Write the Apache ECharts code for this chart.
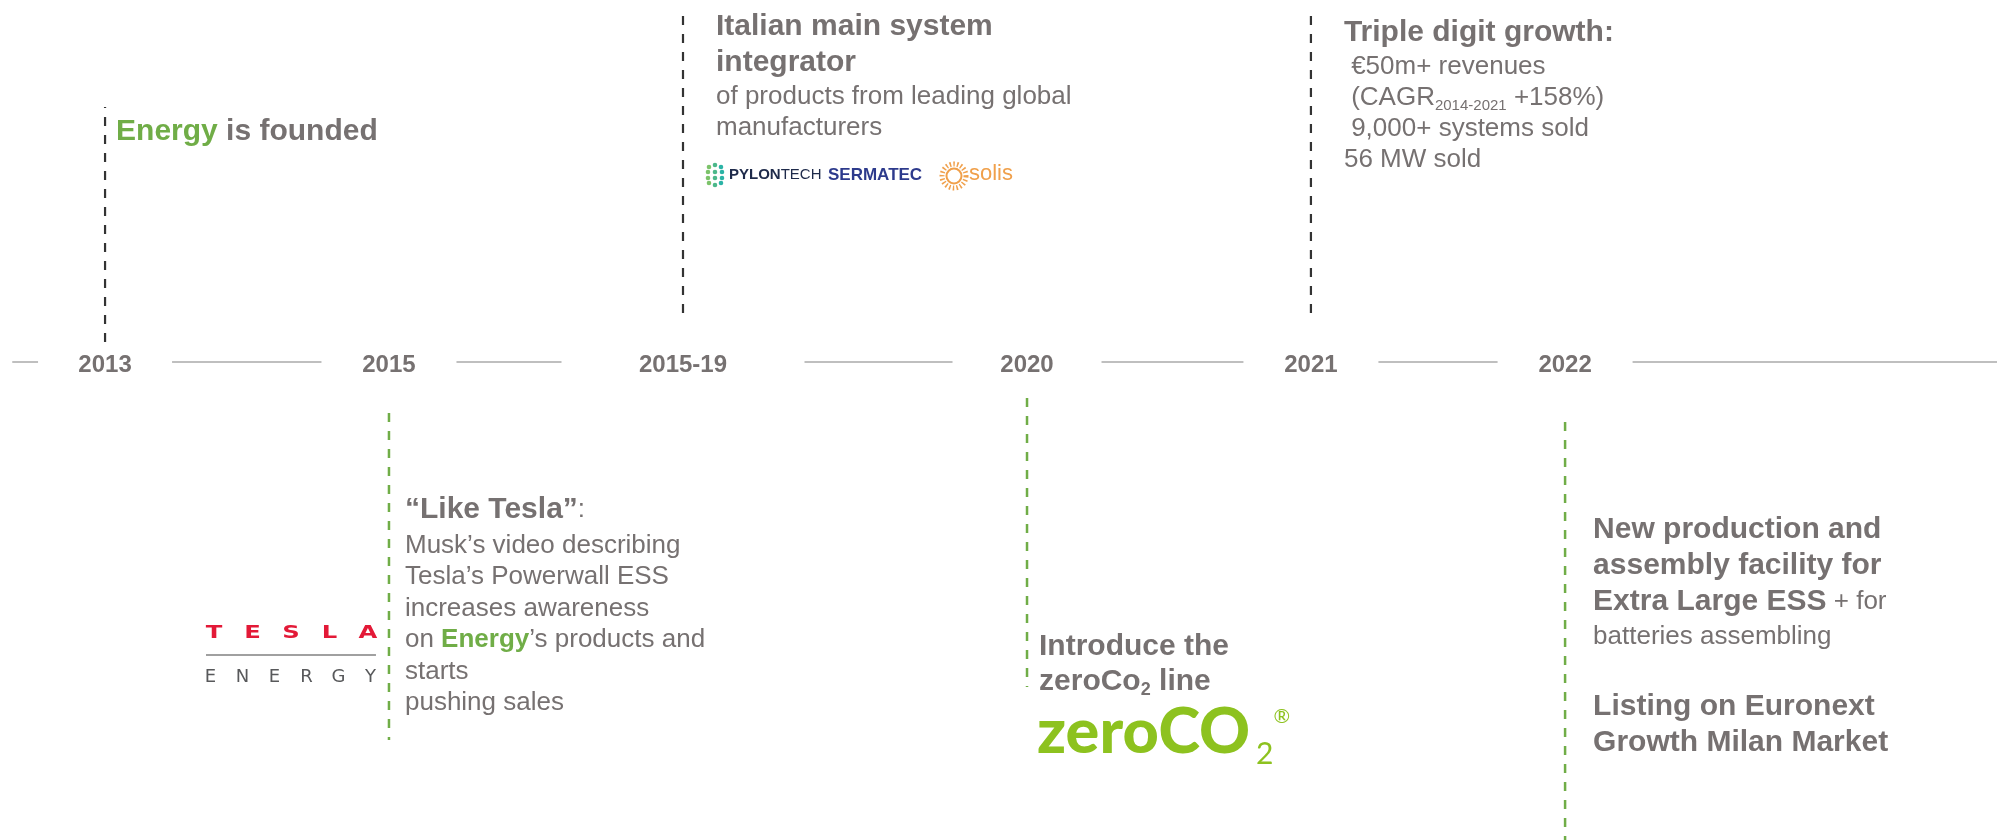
<!DOCTYPE html>
<html>
<head>
<meta charset="utf-8">
<title>Timeline</title>
<script src="https://cdn.jsdelivr.net/npm/echarts@6/dist/echarts.min.js"></script>
<style>
html, body { margin: 0; padding: 0; background: #fff; }
#timeline { width: 1997px; height: 840px; }
</style>
</head>
<body>
<div id="timeline"></div>
<script>
var years = ['2013', '2015', '2015-19', '2020', '2021', '2022'];
// where each milestone sits along the timeline (0-100)
var yearPos = [4.64, 18.95, 33.77, 51.11, 65.42, 78.23];
// 1 = note above the line, -1 = below
var side = [1, -1, 1, -1, 1, -1];
var notes = [
    ['{g|Energy}{b| is founded}'],
    ['{b|“Like Tesla”}{r|:}\n{r|Musk’s video describing}\n{r|Tesla’s Powerwall ESS}\n{r|increases awareness}\n{r|on }{gr|Energy}{r|’s products and}\n{r|starts}\n{r|pushing sales}'],
    ['{b|Italian main system}\n{b|integrator}\n{r|of products from leading global}\n{r|manufacturers}'],
    ['{b|Introduce the}\n{b|zeroCo}{bs|2}{b| line}'],
    ['{b|Triple digit growth:}\n{r| €50m+ revenues}\n{r| (CAGR}{s|2014-2021}{r| +158%)}\n{r| 9,000+ systems sold}\n{r|56 MW sold}'],
    ['{b|New production and}\n{b|assembly facility for}\n{b|Extra Large ESS}{r| + for}\n{r|batteries assembling}',
     '{b|Listing on Euronext}\n{b|Growth Milan Market}']
];

var FONT = '"Liberation Sans", Arial, sans-serif';
var GRAY = '#767171';
var GREEN = '#70ad47';

// stem: px from the axis where the dashed line starts/ends, text: [dx, dy] of each paragraph, lh: bold/regular line heights
var layout = [
    { stem: [20, 255], text: [[11, -247.5]], lh: [35, 31] },
    { stem: [51, 378], text: [[16, 128]], lh: [40, 31.5] },
    { stem: [49, 347], text: [[33, -353]], lh: [36, 31] },
    { stem: [36, 325], text: [[12, 267.5]], lh: [35, 31] },
    { stem: [49, 349], text: [[33, -347]], lh: [36, 31] },
    { stem: [60, 478], text: [[28, 150], [28, 327]], lh: [36, 34] }
];
// white box behind each year, cutting the grey line
var gapW = [134, 135, 243, 149, 135, 135];

function richStyles(bLH, rLH) {
    return {
        b: { fontFamily: FONT, fontSize: 30, fontWeight: 'bold', fill: GRAY, lineHeight: bLH },
        g: { fontFamily: FONT, fontSize: 30, fontWeight: 'bold', fill: GREEN, lineHeight: bLH },
        r: { fontFamily: FONT, fontSize: 26, fill: GRAY, lineHeight: rLH },
        gr: { fontFamily: FONT, fontSize: 26, fontWeight: 'bold', fill: GREEN, lineHeight: rLH },
        s: { fontFamily: FONT, fontSize: 15, fill: GRAY, lineHeight: rLH, verticalAlign: 'bottom' },
        bs: { fontFamily: FONT, fontSize: 18, fontWeight: 'bold', fill: GRAY, lineHeight: bLH, verticalAlign: 'bottom' }
    };
}

function teslaLogo(x, y) {
    var out = [];
    var t = 'TESLA', e = 'ENERGY';
    for (var k = 0; k < t.length; k++) {
        out.push({ type: 'text', x: x - 175 + k * 38.5, y: y + 271.5, scaleX: 1.35,
            style: { text: t[k], fontFamily: '"DejaVu Sans", sans-serif', fontSize: 18, fontWeight: 'bold',
                fill: '#e31937', align: 'center', verticalAlign: 'middle' } });
    }
    out.push({ type: 'line', shape: { x1: x - 183, y1: y + 293, x2: x - 13, y2: y + 293 },
        style: { stroke: '#808080', lineWidth: 1.5 } });
    for (var j = 0; j < e.length; j++) {
        out.push({ type: 'text', x: x - 178.5 + j * 32, y: y + 315,
            style: { text: e[j], fontFamily: '"DejaVu Sans", sans-serif', fontSize: 18,
                fill: '#58595b', align: 'center', verticalAlign: 'middle' } });
    }
    return out;
}

function partnerLogos(x, y) {
    var cy = y - 187;
    var out = [];
    var dots = [[-6, -8], [0, -10], [6, -8], [-7, -3], [0, -3], [7, -3], [-7, 3], [0, 3], [7, 3], [-6, 8], [0, 10], [6, 8]];
    var dotCol = ['#7cc36a', '#4cb88a', '#2bb3a6'];
    dots.forEach(function (d, k) {
        out.push({ type: 'circle', shape: { cx: x + 32 + d[0], cy: cy + d[1], r: 2.3 }, style: { fill: dotCol[k % 3] } });
    });
    out.push({ type: 'text', x: x + 46, y: cy,
        style: { text: '{pb|PYLON}{pr|TECH}', verticalAlign: 'middle', align: 'left',
            rich: { pb: { fontFamily: FONT, fontSize: 15, fontWeight: 'bold', fill: '#1e2a4a' },
                    pr: { fontFamily: FONT, fontSize: 15, fill: '#1e2a4a' } } } });
    out.push({ type: 'text', x: x + 145, y: cy,
        style: { text: 'SERMATEC', fontFamily: FONT, fontSize: 17, fontWeight: 'bold', fill: '#2d3a8c',
            verticalAlign: 'middle', align: 'left' } });
    out.push({ type: 'circle', shape: { cx: x + 271, cy: cy + 1, r: 12 },
        style: { fill: 'none', stroke: '#f0a04b', lineWidth: 5, lineDash: [1.5, 2.2] } });
    out.push({ type: 'circle', shape: { cx: x + 271, cy: cy + 1, r: 7.5 },
        style: { fill: '#fff', stroke: '#f0a04b', lineWidth: 2 } });
    out.push({ type: 'text', x: x + 286, y: cy - 1,
        style: { text: 'solis', fontFamily: FONT, fontSize: 22, fill: '#f0a04b', verticalAlign: 'middle', align: 'left' } });
    return out;
}

function zeroLogo(x, y) {
    var lime = '#8dc21f';
    return [{ type: 'text', x: x + 10, y: y + 331,
        style: { text: '{z|zeroCO}{z2|2}{zr|®}', align: 'left', verticalAlign: 'top',
            rich: {
                z: { fontFamily: 'Lato, sans-serif', fontWeight: 900, fontSize: 63, fill: lime, lineHeight: 80 },
                z2: { fontFamily: 'Lato, sans-serif', fontSize: 30, fill: lime, lineHeight: 80, verticalAlign: 'bottom', padding: [0, 0, 4, 6] },
                zr: { fontFamily: 'Lato, sans-serif', fontSize: 20, fill: lime, lineHeight: 80, verticalAlign: 'top', padding: [14, 0, 0, 0] }
            } } }];
}

var extras = [null, teslaLogo, partnerLogos, zeroLogo, null, null];

function renderItem(params, api) {
    var i = params.dataIndex;
    var p = api.coord([api.value(0), 0]);
    var x = p[0], y = p[1];
    var L = layout[i];
    var up = side[i] > 0;
    var kids = [{
        type: 'line',
        shape: { x1: x, y1: up ? y - L.stem[0] : y + L.stem[0], x2: x, y2: up ? y - L.stem[1] : y + L.stem[1] },
        style: { stroke: up ? '#333333' : GREEN, lineWidth: up ? 2.2 : 2.5, lineDash: [9, 9] }
    }];
    notes[i].forEach(function (txt, k) {
        kids.push({
            type: 'text', x: x + L.text[k][0], y: y + L.text[k][1],
            style: { text: txt, rich: richStyles(L.lh[0], L.lh[1]), fontFamily: FONT, fontSize: 26,
                lineHeight: L.lh[1], fill: GRAY, align: 'left', verticalAlign: 'top' }
        });
    });
    if (extras[i]) kids = kids.concat(extras[i](x, y));
    return { type: 'group', children: kids };
}

var chart = echarts.init(document.getElementById('timeline'));
var option = {
    animation: false,
    backgroundColor: '#fff',
    grid: { left: 13, right: 0, top: 0, bottom: 0 },
    xAxis: {
        type: 'value', min: 0, max: 100,
        axisLine: { show: true, onZero: true, lineStyle: { color: '#bfbfbf', width: 2 } },
        axisTick: { show: false }, axisLabel: { show: false }, splitLine: { show: false }
    },
    // 1 unit = 1px, timeline sits at 0
    yAxis: { type: 'value', min: -478, max: 362, show: false, splitLine: { show: false } },
    series: [
        {
            type: 'custom',
            coordinateSystem: 'cartesian2d',
            clip: false,
            data: yearPos.map(function (p) { return [p, 0]; }),
            encode: { x: 0, y: 1 },
            renderItem: renderItem,
            z: 2
        },
        {
            type: 'scatter',
            symbolSize: 1,
            itemStyle: { color: 'rgba(0,0,0,0)', opacity: 1 },
            emphasis: { disabled: true },
            data: yearPos.map(function (p, i) {
                return { value: [p, 0], label: { width: gapW[i] } };
            }),
            label: {
                show: true, position: 'inside', align: 'center',
                formatter: function (d) { return years[d.dataIndex]; },
                fontFamily: FONT, fontSize: 24, fontWeight: 'bold', color: GRAY, opacity: 1,
                backgroundColor: '#fff', padding: [5, 0], offset: [0, 3]
            },
            z: 3
        }
    ]
};
chart.setOption(option);
window.onresize = chart.resize;
</script>
</body>
</html>
